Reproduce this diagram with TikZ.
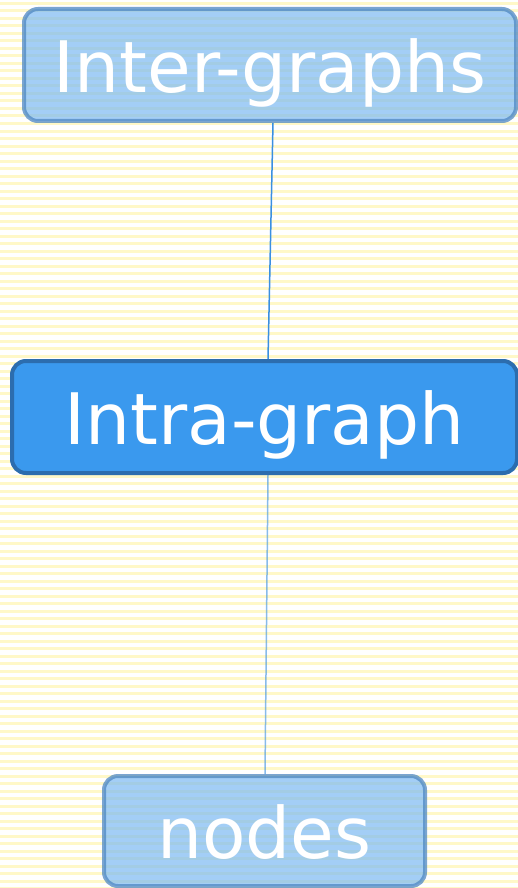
\documentclass[tikz,border=0pt]{standalone}
\usepackage{fontspec}
\setmainfont{DejaVu Sans}
\definecolor{stripe}{HTML}{FFF8C8}
\definecolor{softfill}{HTML}{78B8F2}
\definecolor{softedge}{HTML}{4F88C2}
\definecolor{strongfill}{HTML}{3A99EE}
\definecolor{strongedge}{HTML}{2C6DAE}
\definecolor{linkblue}{HTML}{3A8FE0}
\tikzset{
  label text/.style={text=white, font=\fontsize{71}{80}\selectfont, inner sep=0pt,
    text height=55pt, text depth=0pt},
  softbox/.style={label text, draw=softedge, draw opacity=0.75, fill=softfill,
    fill opacity=0.68, text opacity=1, line width=4pt, rounded corners=14pt},
  strongbox/.style={label text, draw=strongedge, fill=strongfill, line width=4pt,
    rounded corners=14pt},
  link/.style={draw=linkblue, line width=1.5pt},
  softlink/.style={draw=linkblue, draw opacity=0.6, line width=1.5pt}
}
\begin{document}
\begin{tikzpicture}[x=1pt, y=-1pt]
  % white ground with thin yellow ruling
  \fill[white] (0,0) rectangle (518,888);
  \useasboundingbox (0,0) rectangle (518,888);
  \foreach \k in {0,...,118} {
    \draw[stripe, line width=3pt] (0, 3.5+7.5*\k) -- (518, 3.5+7.5*\k);
  }

  % boxes
  \node[softbox, minimum width=492pt, minimum height=112pt] (inter) at (270,65) {Inter-graphs};
  \node[strongbox, minimum width=505pt, minimum height=112pt] (intra) at (264.5,417) {Intra-graph};
  \node[softbox, minimum width=321pt, minimum height=110pt] (nodes) at (264.5,831) {nodes};

  % connectors
  \draw[link] ([xshift=3pt]inter.south) -- ([xshift=3.5pt]intra.north);
  \draw[softlink] ([xshift=3.5pt]intra.south) -- ([xshift=0.5pt]nodes.north);
\end{tikzpicture}
\end{document}
